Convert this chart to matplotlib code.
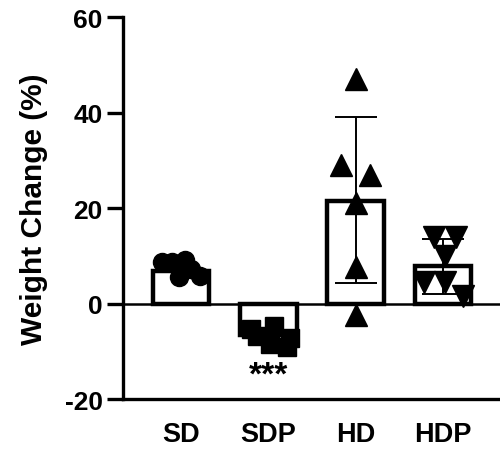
import matplotlib
matplotlib.use("Agg")
import matplotlib.pyplot as plt
import numpy as np

plt.rcParams['font.family'] = ['Liberation Sans', 'DejaVu Sans']
plt.rcParams['font.weight'] = 'bold'

categories = ["SD", "SDP", "HD", "HDP"]
ytick_vals = [-20, 0, 20, 40, 60]
ytick_labels = ["-20", "0", "20", "40", "60"]
bar_means = [6.8, -6.5, 21.5, 7.8]
err_low = [None, None, 4.4, 2.1]
err_high = [None, None, 39.1, 13.6]

sd_vals = [8.6, 8.8, 9.2, 5.5, 7.2, 5.8]
sd_off = [-0.22, -0.1, 0.05, -0.02, 0.12, 0.22]
sdp_vals = [-5.4, -6.7, -4.8, -8.4, -7.3, -9.0]
sdp_off = [-0.2, -0.13, 0.06, 0.02, 0.25, 0.22]
hd_vals = [47.0, 29.0, 27.0, 21.0, 7.7, -2.5]
hd_off = [0.0, -0.17, 0.17, 0.0, 0.0, 0.0]
hdp_vals = [14.0, 14.0, 10.0, 4.5, 4.5, 1.5]
hdp_off = [-0.1, 0.15, 0.02, -0.22, 0.02, 0.23]

fig = plt.figure(figsize=(5.0, 4.52), dpi=100)
ax = fig.add_axes([0.246, 0.115, 0.754, 0.845])

x = np.arange(len(categories))
ax.bar(x, bar_means, width=0.65, facecolor='white', edgecolor='black', linewidth=3.2, zorder=2)

for i in range(len(categories)):
    if err_low[i] is not None:
        ax.errorbar([x[i]], [bar_means[i]],
                    yerr=[[bar_means[i] - err_low[i]], [err_high[i] - bar_means[i]]],
                    fmt='none', ecolor='black', elinewidth=1.4, capsize=15, capthick=1.4, zorder=3)

ax.plot(x[0] + np.array(sd_off), sd_vals, 'o', color='black', markersize=13, zorder=4, linestyle='none')
ax.plot(x[1] + np.array(sdp_off), sdp_vals, 's', color='black', markersize=13, zorder=4, linestyle='none')
ax.plot(x[2] + np.array(hd_off), hd_vals, '^', color='black', markersize=16, zorder=4, linestyle='none')
ax.plot(x[3] + np.array(hdp_off), hdp_vals, 'v', color='black', markersize=16, zorder=4, linestyle='none')

ax.axhline(0, color='black', linewidth=1.8, zorder=1)

ax.text(x[1], -15.0, "***", ha='center', va='center', fontsize=24, fontweight='bold')

ax.set_xlim(-0.664, 3.654)
ax.set_ylim(-20, 60)
ax.set_yticks(ytick_vals)
ax.set_yticklabels(ytick_labels)
ax.set_xticks(x)
ax.set_xticklabels(categories)
ax.spines['top'].set_visible(False)
ax.spines['right'].set_visible(False)
ax.spines['left'].set_linewidth(2.4)
ax.spines['bottom'].set_linewidth(2.4)
ax.tick_params(axis='y', length=11.5, width=2.4, labelsize=19, pad=3)
ax.tick_params(axis='x', length=0, labelsize=19.5, pad=16)
for lab in ax.get_xticklabels() + ax.get_yticklabels():
    lab.set_fontweight('bold')
ax.set_ylabel("Weight Change (%)", fontsize=21.5, fontweight='bold', labelpad=12)

fig.savefig("out.png", dpi=100)
